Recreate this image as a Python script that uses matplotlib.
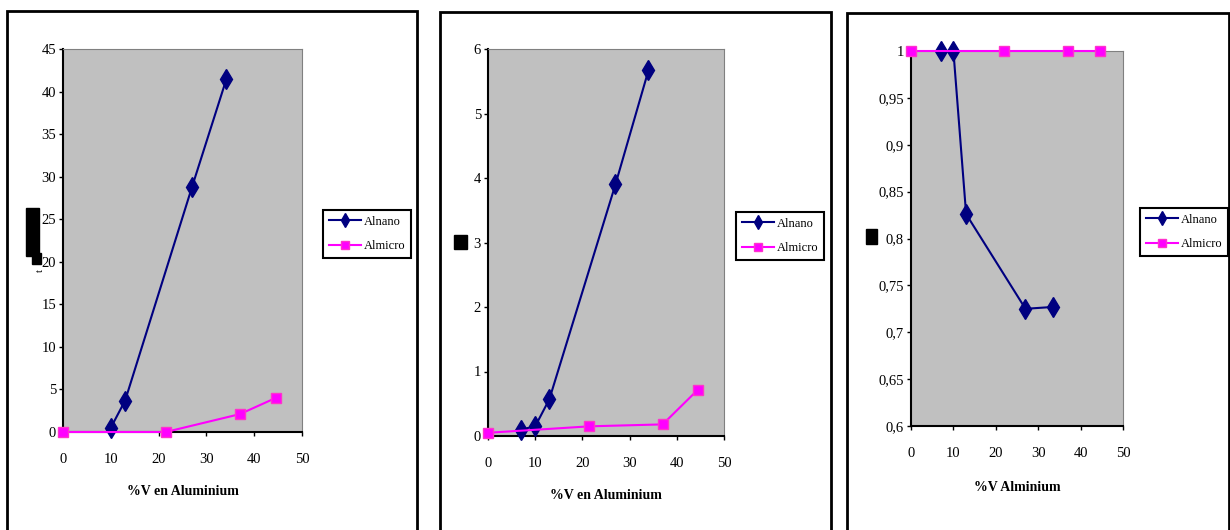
import matplotlib
matplotlib.use('Agg')
import matplotlib.pyplot as plt
from matplotlib.patches import Rectangle
from matplotlib.ticker import FuncFormatter

plt.rcParams['font.family'] = ['Liberation Serif', 'DejaVu Serif']

# data
x_nano_1 = [10, 13, 27, 34.2]
y_nano_1 = [0.5, 3.7, 28.8, 41.5]
x_micro_1 = [0, 21.5, 37, 44.5]
y_micro_1 = [0.0, 0.0, 2.1, 4.0]

x_nano_2 = [7, 10, 13, 27, 34]
y_nano_2 = [0.1, 0.15, 0.57, 3.9, 5.67]
x_micro_2 = [0, 21.5, 37, 44.5]
y_micro_2 = [0.05, 0.15, 0.18, 0.72]

x_nano_3 = [7, 10, 13, 27, 33.5]
y_nano_3 = [1.0, 1.0, 0.826, 0.725, 0.727]
x_micro_3 = [0, 22, 37, 44.5]
y_micro_3 = [1.0, 1.0, 1.0, 1.0]

labels = ['Alnano', 'Almicro']
xlabels = ['%V en Aluminium', '%V en Aluminium', '%V Alminium']

W, H = 1230, 530
fig = plt.figure(figsize=(W / 100, H / 100), dpi=100)


def rect(l, r, t, b):
    return [l / W, 1 - b / H, (r - l) / W, (b - t) / H]


# panel frames
for l, r, t in [(7, 417, 11), (440, 831, 12), (847, 1229, 13)]:
    fig.patches.append(Rectangle((l / W, -0.05), (r - l) / W, 1 - t / H + 0.05,
                                 transform=fig.transFigure, fill=False,
                                 edgecolor='black', linewidth=2))

panels = [
    (rect(63, 302, 49, 432), x_nano_1, y_nano_1, x_micro_1, y_micro_1, (0, 45), 5, (323, 210), 14),
    (rect(488, 724, 49, 436), x_nano_2, y_nano_2, x_micro_2, y_micro_2, (0, 6), 1, (736, 212), 14),
    (rect(911, 1123, 51, 426), x_nano_3, y_nano_3, x_micro_3, y_micro_3, (0.6, 1.0), 0.05, (1140, 208), 15),
]

for i, (pos, xn, yn, xm, ym, ylim, ystep, legpos, lpad) in enumerate(panels):
    ax = fig.add_axes(pos)
    ax.set_facecolor('#C0C0C0')
    ax.plot(xn, yn, color='#000080', marker='d', markersize=10, linewidth=1.5,
            label=labels[0], clip_on=False, zorder=3)
    ax.plot(xm, ym, color='#FF00FF', marker='s', markersize=7.5, linewidth=1.5,
            markerfacecolor='#FF00FF', markeredgecolor='#FF33CC',
            label=labels[1], clip_on=False, zorder=3)
    ax.set_xlim(0, 50)
    ax.set_ylim(*ylim)
    ax.set_xticks(range(0, 51, 10))
    n = int(round((ylim[1] - ylim[0]) / ystep))
    ax.set_yticks([ylim[0] + k * ystep for k in range(n + 1)])
    if i == 2:
        ax.yaxis.set_major_formatter(FuncFormatter(
            lambda v, p: ('%g' % round(v, 2)).replace('.', ',')))
    ax.tick_params(direction='out', length=3, width=1, labelsize=10.5, pad=2)
    ax.tick_params(axis='x', pad=12)
    for s in ['top', 'right']:
        ax.spines[s].set_color('#808080')
    for s in ['left', 'bottom']:
        ax.spines[s].set_linewidth(1.5)
    ax.set_xlabel(xlabels[i], fontsize=10, fontweight='bold', labelpad=lpad)
    leg = ax.legend(loc='upper left', bbox_to_anchor=(legpos[0] / W, 1 - legpos[1] / H),
                    bbox_transform=fig.transFigure, fontsize=9, fancybox=False,
                    framealpha=1, edgecolor='black', handlelength=2.6,
                    borderpad=0.45, labelspacing=1.0, handletextpad=0.2,
                    borderaxespad=0, markerscale=0.7)
    leg.get_frame().set_linewidth(1.5)

# redaction blocks where the y-axis titles were
for l, r, t, b in [(26, 39, 208, 256), (32, 41, 253, 264), (454, 467, 235, 249), (866, 877, 229, 244)]:
    fig.patches.append(Rectangle((l / W, 1 - b / H), (r - l) / W, (b - t) / H,
                                 transform=fig.transFigure, color='black'))
fig.text(40 / W, 1 - 270 / H, 't', rotation=90, fontsize=8, ha='center', va='center')

fig.savefig('out.png', dpi=100)
